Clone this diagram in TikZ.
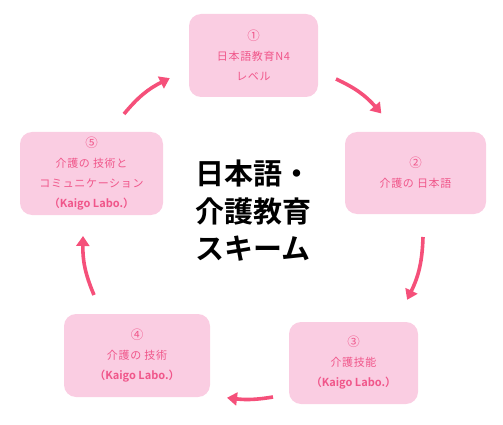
\documentclass[tikz,border=0pt]{standalone}
\usepackage{fontspec}
\usetikzlibrary{arrows.meta}
\newfontfamily\jp{Noto Sans CJK JP}[BoldFont={Noto Sans CJK JP Bold}]
\newfontfamily\jpbox{Noto Sans CJK JP}[BoldFont={Noto Sans CJK JP Bold}, LetterSpace=6]
\definecolor{boxfill}{HTML}{FACDE2}
\definecolor{boxtext}{HTML}{F0568A}
\definecolor{arrowc}{HTML}{F5507A}
\newcommand\kl{{\jp\bfseries（Kaigo Labo.）}}
\newcommand\cn[1]{{\jp\fontsize{12.5}{20}\selectfont #1}}
\tikzset{
  stepbox/.style={draw=none, fill=boxfill, rounded corners=12pt, align=center,
    text=boxtext, font=\jpbox\fontsize{11}{20}\selectfont, inner sep=0pt},
  cyc/.style={draw=arrowc, line width=3.6pt, -{Triangle[length=10pt,width=13pt]}, shorten >=-2pt},
}
\begin{document}
\begin{tikzpicture}[x=1pt,y=-1pt]
\useasboundingbox (0,0) rectangle (503,425);
\node[stepbox, minimum width=129pt, minimum height=83pt] (b1) at (253.5,55.5) {\cn{①}\\日本語教育N4\\レベル};
\node[stepbox, minimum width=141pt, minimum height=82pt] (b2) at (415.5,173) {\cn{②}\\介護の 日本語};
\node[stepbox, minimum width=129pt, minimum height=82pt] (b3) at (353.5,363) {\cn{③}\\介護技能\\\kl};
\node[stepbox, minimum width=146pt, minimum height=83pt] (b4) at (137,355.5) {\cn{④}\\介護の 技術\\\kl};
\node[stepbox, minimum width=143pt, minimum height=83pt] (b5) at (91.5,173.5) {\cn{⑤}\\介護の 技術と\\コミュニケーション\\\kl};
\node[align=center, font=\jp\bfseries\fontsize{29}{37.5}\selectfont] (title) at (253,211) {日本語・\\介護教育\\スキーム};
\coordinate (a1s) at (336,79);
\coordinate (a1e) at (380,112);
\coordinate (a2s) at (423,237);
\coordinate (a2e) at (408,298);
\coordinate (a3s) at (273,397);
\coordinate (a3e) at (229,398);
\coordinate (a4s) at (94,295);
\coordinate (a4e) at (83,238);
\coordinate (a5s) at (124,114);
\coordinate (a5e) at (168,79);
\draw[cyc] (a1s) to[bend left=12] (a1e);
\draw[cyc] (a2s) to[bend left=12] (a2e);
\draw[cyc] (a3s) to[bend left=8] (a3e);
\draw[cyc] (a4s) to[bend left=12] (a4e);
\draw[cyc] (a5s) to[bend left=12] (a5e);
\end{tikzpicture}
\end{document}
